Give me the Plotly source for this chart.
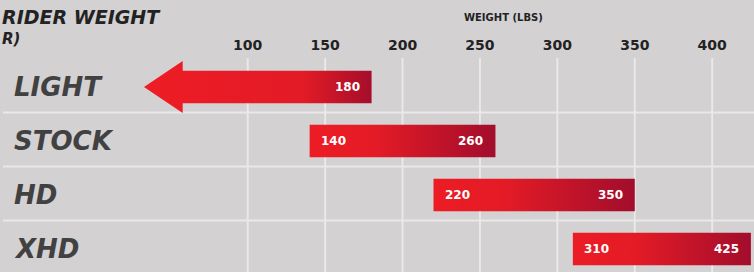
import plotly.graph_objects as go

# ---- data ----
categories = ["LIGHT", "STOCK", "HD", "XHD"]
weight_min = [None, 140, 220, 310]
weight_max = [180, 260, 350, 425]
tick_values = [100, 150, 200, 250, 300, 350, 400]
tick_labels = ["100", "150", "200", "250", "300", "350", "400"]

# ---- style ----
BG = "#d3d1d2"
GRID = "#eae8e9"
TXT = "#222222"
CAT = "#414142"
FONT = "DejaVu Sans"
BAR_HALF = 0.30
HEAD_HALF = 0.48
ARROW_TIP = 33      # axis units: where the arrow point sits
ARROW_HEAD = 58     # axis units: base of the arrow head
GRAD_BAR = [[0, "#ec1c24"], [0.35, "#e41b26"], [1, "#a20d2c"]]
GRAD_ARROW = [[0, "#ee1c25"], [0.7, "#e21b26"], [1, "#a50e2c"]]

fig = go.Figure()

# vertical grid lines at the tick values
for tv in tick_values:
    fig.add_shape(type="line", xref="x", yref="paper", x0=tv, x1=tv, y0=0, y1=1,
                  line=dict(color=GRID, width=2), layer="below")

for i, (lo, hi) in enumerate(zip(weight_min, weight_max)):
    if lo is None:
        xs = [ARROW_TIP, ARROW_HEAD, ARROW_HEAD, hi, hi, ARROW_HEAD, ARROW_HEAD, ARROW_TIP]
        ys = [i, i - HEAD_HALF, i - BAR_HALF, i - BAR_HALF, i + BAR_HALF, i + BAR_HALF, i + HEAD_HALF, i]
        grad = GRAD_ARROW
    else:
        xs = [lo, hi, hi, lo, lo]
        ys = [i - BAR_HALF, i - BAR_HALF, i + BAR_HALF, i + BAR_HALF, i - BAR_HALF]
        grad = GRAD_BAR
    fig.add_trace(go.Scatter(
        x=xs, y=ys, mode="lines", fill="toself",
        fillgradient=dict(type="horizontal", colorscale=grad),
        line=dict(width=0, color="rgba(0,0,0,0)"),
        hoverinfo="skip", showlegend=False,
    ))
    # value labels
    if lo is not None:
        fig.add_annotation(x=lo, y=i, xref="x", yref="y", text=str(lo), showarrow=False,
                           xanchor="left", xshift=9,
                           font=dict(family=FONT, size=12, color="white", weight="bold"))
    fig.add_annotation(x=hi, y=i, xref="x", yref="y", text=str(hi), showarrow=False,
                       xanchor="right", xshift=-10,
                       font=dict(family=FONT, size=12, color="white", weight="bold"))
    # category labels
    fig.add_annotation(x=0.016, y=i, xref="paper", yref="y", text=categories[i], showarrow=False,
                       xanchor="left",
                       font=dict(family=FONT, size=26, color=CAT, weight="bold", style="italic"))
    # separators
    if i < len(categories) - 1:
        fig.add_shape(type="line", xref="paper", yref="y", x0=0.004, x1=1, y0=i + 0.47, y1=i + 0.47,
                      line=dict(color=GRID, width=2), layer="below")

# header texts
fig.add_annotation(x=0, y=1.19, xref="paper", yref="paper", text="RIDER WEIGHT",
                   showarrow=False, xanchor="left", yanchor="middle",
                   font=dict(family=FONT, size=19, color=TXT, weight="bold", style="italic"))
fig.add_annotation(x=0, y=1.09, xref="paper", yref="paper", text="R)",
                   showarrow=False, xanchor="left", yanchor="middle",
                   font=dict(family=FONT, size=15, color=TXT, weight="bold", style="italic"))
fig.add_annotation(x=503 / 754, y=1.19, xref="paper", yref="paper", text="WEIGHT (LBS)",
                   showarrow=False, xanchor="center", yanchor="middle",
                   font=dict(family=FONT, size=10, color=TXT, weight="bold"))

fig.update_layout(
    width=754, height=272,
    margin=dict(l=0, r=0, t=58, b=0),
    paper_bgcolor=BG, plot_bgcolor=BG,
    xaxis=dict(range=[-60, 427], side="top", tickvals=tick_values, ticktext=tick_labels,
               showgrid=False, zeroline=False, showline=False,
               ticks="", ticklabelstandoff=4,
               tickfont=dict(family=FONT, size=14, color=TXT, weight="bold"), fixedrange=True),
    yaxis=dict(range=[3.426, -0.537], showgrid=False, zeroline=False, showticklabels=False,
               showline=False, fixedrange=True),
)

fig.write_html("out.html", config={"displayModeBar": False},
               post_script="document.body.style.margin='0';")
